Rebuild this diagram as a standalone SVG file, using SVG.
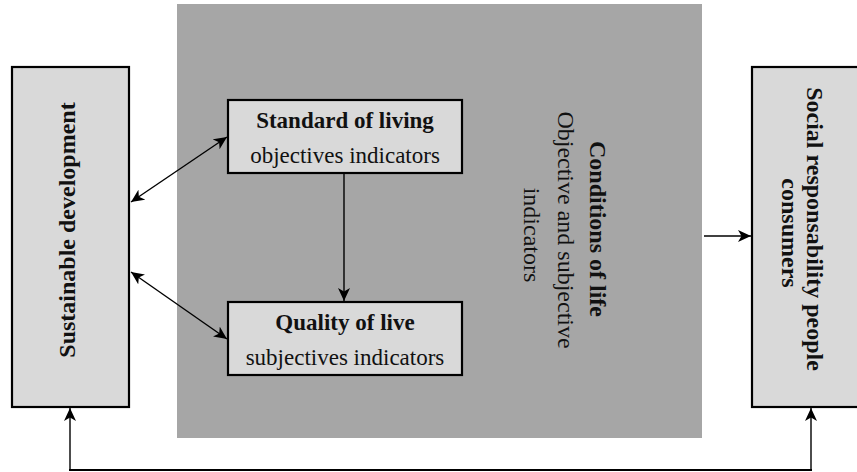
<svg xmlns="http://www.w3.org/2000/svg" width="857" height="472" viewBox="0 0 857 472">
<style>
.box{fill:#d9d9d9;stroke:#000;stroke-width:2.2}
.t{font-family:"Liberation Serif","Times New Roman",serif;fill:#111}
.b{font-weight:bold}
.c{text-anchor:middle}
.ln{fill:none;stroke:#000;stroke-width:1.4}
</style>
<defs>
<marker id="ah" markerUnits="userSpaceOnUse" markerWidth="14" markerHeight="12" viewBox="0 0 14 12" refX="13" refY="6" orient="auto-start-reverse">
<path d="M0,0 L13,6 L0,12 L3.5,6 Z" fill="#000"/>
</marker>
</defs>
<rect id="conditions-bg" x="177" y="4" width="525" height="434" fill="#a6a6a6"/>
<g id="conditions">
<text class="t b c" font-size="24" transform="translate(590,229) rotate(90)">Conditions of life</text>
<text class="t c" font-size="24" transform="translate(558,230) rotate(90)">Objective and subjective</text>
<text class="t c" font-size="24" transform="translate(524,235) rotate(90)">indicators</text>
</g>
<g id="sustainable">
<rect class="box" x="12" y="67" width="117" height="340"/>
<text class="t b c" font-size="24" transform="translate(75,230) rotate(-90)">Sustainable development</text>
</g>
<g id="social">
<rect class="box" x="752" y="67" width="108" height="340"/>
<text class="t b c" font-size="24" transform="translate(807,229) rotate(90)">Social responsability people</text>
<text class="t b c" font-size="24" transform="translate(782,233) rotate(90)">consumers</text>
</g>
<g id="standard">
<rect class="box" x="228" y="100" width="234" height="73"/>
<text class="t b c" font-size="23" x="345" y="128">Standard of living</text>
<text class="t c" font-size="23" x="345" y="163">objectives indicators</text>
</g>
<g id="quality">
<rect class="box" x="228" y="302" width="234" height="73"/>
<text class="t b c" font-size="23" x="345" y="330">Quality of live</text>
<text class="t c" font-size="23" x="345" y="365">subjectives indicators</text>
</g>
<g id="connectors">
<line class="ln" x1="131" y1="202" x2="227" y2="137" marker-start="url(#ah)" marker-end="url(#ah)"/>
<line class="ln" x1="131" y1="272" x2="227" y2="339" marker-start="url(#ah)" marker-end="url(#ah)"/>
<line class="ln" x1="344" y1="173" x2="344" y2="301" marker-end="url(#ah)"/>
<line class="ln" x1="704" y1="236" x2="751" y2="236" marker-end="url(#ah)"/>
<line class="ln" x1="70" y1="470" x2="70" y2="408" marker-end="url(#ah)"/>
<line class="ln" x1="811" y1="470" x2="811" y2="408" marker-end="url(#ah)"/>
<line x1="69" y1="470" x2="812" y2="470" stroke="#000" stroke-width="2.2"/>
</g>
</svg>
